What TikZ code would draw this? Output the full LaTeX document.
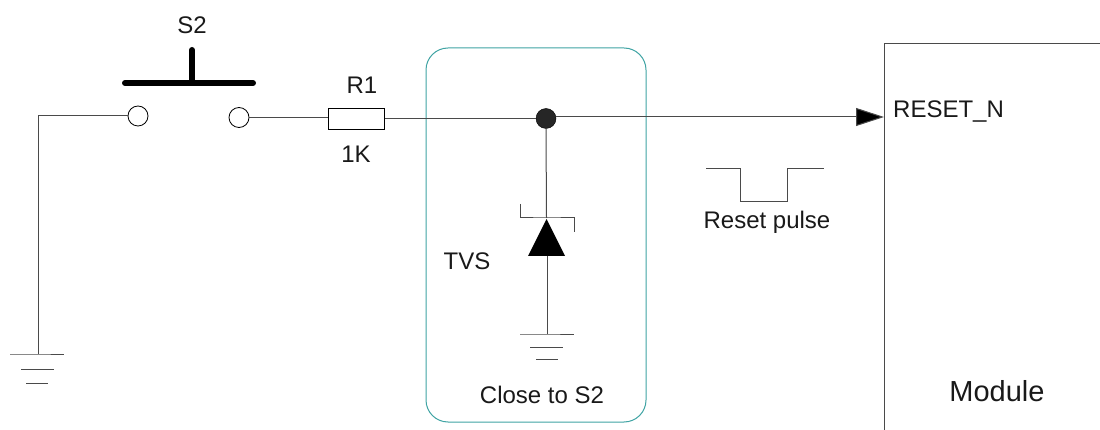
\documentclass[tikz,border=0pt]{standalone}
\usepackage{fontspec}
\setmainfont{Liberation Sans}
\usetikzlibrary{arrows.meta}
\definecolor{tealbox}{HTML}{3FA3A3}
\definecolor{wirecol}{HTML}{4A4A4A}
\tikzset{
  wire/.style={draw=wirecol,line width=1pt},
  pin/.style={circle,draw=black,fill=white,line width=0.8pt,minimum size=20pt,inner sep=0pt},
  dot/.style={circle,fill=black!85,draw=black,minimum size=20pt,inner sep=0pt},
  res/.style={rectangle,draw=black,fill=white,line width=1pt,minimum width=56pt,minimum height=21pt,inner sep=0pt},
  lbl/.style={font=\fontsize{24}{28}\selectfont,text=black!90,inner sep=0pt},
  push/.style={line width=6pt,line cap=round,draw=black},
  gnd/.style={draw=wirecol,line width=1pt},
  arrowhd/.style={-{Triangle[length=28pt,width=18pt,fill=black]}}
}
\begin{document}
\begin{tikzpicture}[x=1pt,y=-1pt]
\useasboundingbox (0,0) rectangle (1100,430);
% closeness box
\node[draw=tealbox,line width=1pt,rounded corners=22pt,minimum width=220pt,minimum height=374pt,inner sep=0pt] (zone) at (536,235) {};
% nodes
\node[pin] (p1) at (138,116) {};
\node[pin] (p2) at (239,117.5) {};
\node[res] (r1) at (356,119.5) {};
\node[dot] (j) at (546,118.5) {};
\coordinate (corner) at (38,116);
\coordinate (g1) at (38,354);
\coordinate (tip) at (884,117);
\coordinate (k) at (546.5,218);
\coordinate (a) at (547,256);
\coordinate (g2) at (547,334);
% wires
\draw[wire] (p1.west) -- (corner) -- (g1);
\draw[wire] (p2.east) -- (p2.east -| r1.west);
\draw[wire] (r1.east |- j.west) -- (j.west);
\draw[wire,arrowhd] (j.east |- tip) -- (tip);
\draw[wire] (j.south) -- (k);
\draw[wire] (a) -- (g2);
% switch
\coordinate (btop) at (192,50);
\coordinate (bmid) at (192,83);
\draw[push] (125,83) -- (bmid) -- (253,83);
\draw[push] (btop) -- (bmid);
% TVS
\draw[wire] (520,204) -- (520,218) -- (k) -- (574,218) -- (574,232);
\fill[black] (546.5,219) -- (565,256) -- (528,256) -- cycle;
% grounds
\draw[gnd] (10,354) -- (g1) -- (64,354);
\draw[gnd] (21,369) -- (54,369);
\draw[gnd] (26,383) -- (48,383);
\draw[gnd] (520,334) -- (g2) -- (574,334);
\draw[gnd] (530,347) -- (563,347);
\draw[gnd] (536,359.5) -- (558,359.5);
% pulse
\draw[wire] (706,169) -- (740,169) -- (740,202) -- (787,202) -- (787,169) -- (824,169);
% module
\draw[wire] (884,430) -- (884,44) -- (1100,44);
% labels
\node[lbl] (ls2) at (192,25) {S2};
\node[lbl] (lr1) at (362,85) {R1};
\node[lbl] (l1k) at (356,154) {1K};
\node[lbl] (ltvs) at (467,261) {TVS};
\node[lbl] (lclose) at (542,395) {Close to S2};
\node[lbl] (lpulse) at (767,222) {Reset pulse};
\node[lbl,anchor=west] (lreset) at (893,112) {RESET\_N};
\node[lbl,font=\fontsize{29}{33}\selectfont] (lmod) at (997,391) {Module};
\end{tikzpicture}
\end{document}
